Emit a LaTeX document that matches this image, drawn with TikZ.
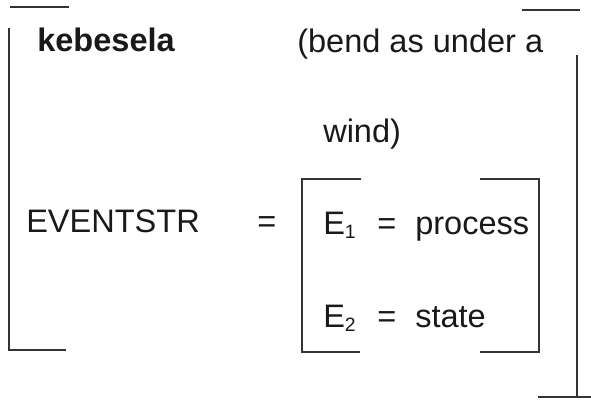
\documentclass[tikz,border=0pt]{standalone}
\usepackage{fontspec}
\setmainfont{Liberation Sans}
\begin{document}
\begin{tikzpicture}[x=0.75pt,y=-0.75pt,
  txt/.style={anchor=base west,inner sep=0pt,font=\fontsize{24.4}{28}\selectfont,text=black!90},
  brk/.style={line width=0.8pt,draw=black!80}]
\useasboundingbox (0,0) rectangle (591,402);
% outer left bracket
\draw[brk] (10,7) -- (69,7);
\draw[brk] (9,28) -- (9,350) -- (66,350);
% outer right bracket
\draw[brk] (522,10) -- (580,10);
\draw[brk] (577,55) -- (577,396);
\draw[brk] (538,397) -- (591,397);
% inner bracket
\draw[brk] (361,179) -- (302,179) -- (302,352) -- (360,352);
\draw[brk] (480,179) -- (539,179) -- (539,352) -- (480,352);
% texts
\node[txt,font=\fontsize{24.4}{28}\selectfont\bfseries] (lex) at (37,52) {kebesela};
\node[txt] (gloss1) at (297,53) {(bend as under a};
\node[txt] (gloss2) at (323,143) {wind)};
\node[txt] (ev) at (26,233) {EVENTSTR};
\node[txt] (eq) at (257,233) {=};
\node[txt] (e1) at (323,234) {E\raisebox{-3.5pt}{\fontsize{14.5}{15}\selectfont 1}};
\node[txt] (eq1) at (377,234) {=};
\node[txt] (v1) at (415,234) {process};
\node[txt] (e2) at (323,327) {E\raisebox{-3.5pt}{\fontsize{14.5}{15}\selectfont 2}};
\node[txt] (eq2) at (377,327) {=};
\node[txt] (v2) at (415,327) {state};
\end{tikzpicture}
\end{document}
